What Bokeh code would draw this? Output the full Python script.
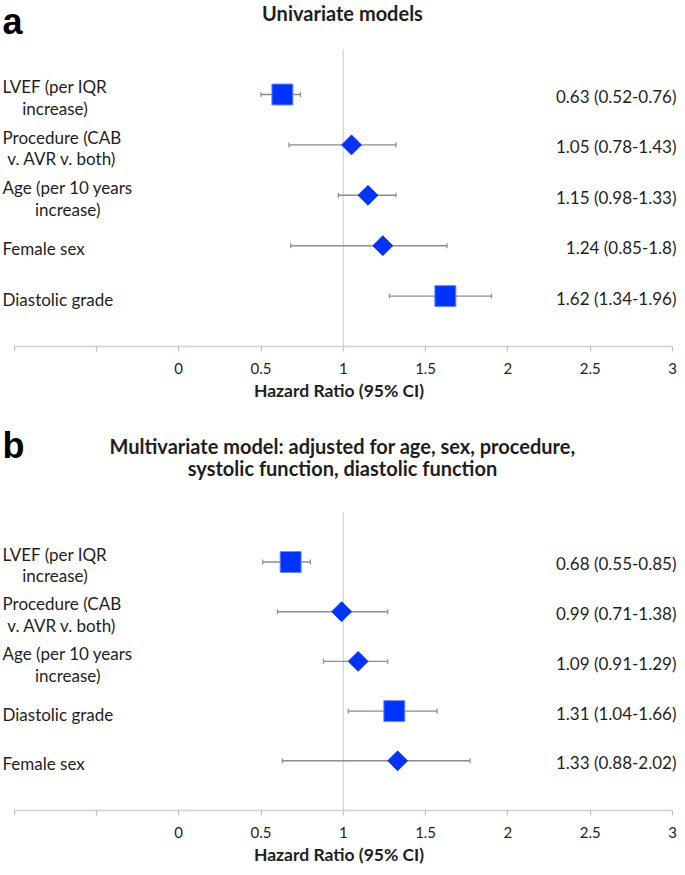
import math
from bokeh.plotting import figure
from bokeh.layouts import column
from bokeh.models import Range1d, FixedTicker
from bokeh.core.properties import value
from bokeh.embed import file_html
from bokeh.resources import INLINE

# ---------------- data ----------------
uni_labels = ["LVEF (per IQR\nincrease)", "Procedure (CAB\nv. AVR v. both)",
              "Age (per 10 years\nincrease)", "Female sex", "Diastolic grade"]
uni_hr = [0.63, 1.05, 1.15, 1.24, 1.62]
uni_ci_lo = [0.52, 0.78, 0.98, 0.85, 1.34]
uni_ci_hi = [0.76, 1.43, 1.33, 1.8, 1.96]
uni_bar_lo = [0.50, 0.67, 0.97, 0.68, 1.28]   # whisker ends as drawn
uni_bar_hi = [0.74, 1.32, 1.32, 1.63, 1.90]

multi_labels = ["LVEF (per IQR\nincrease)", "Procedure (CAB\nv. AVR v. both)",
                "Age (per 10 years\nincrease)", "Diastolic grade", "Female sex"]
multi_hr = [0.68, 0.99, 1.09, 1.31, 1.33]
multi_ci_lo = [0.55, 0.71, 0.91, 1.04, 0.88]
multi_ci_hi = [0.85, 1.38, 1.29, 1.66, 2.02]
multi_bar_lo = [0.51, 0.60, 0.88, 1.03, 0.63]
multi_bar_hi = [0.80, 1.27, 1.27, 1.57, 1.77]

tick_values = [-1, -0.5, 0, 0.5, 1, 1.5, 2, 2.5, 3]
tick_labels = ["", "", "0", "0.5", "1", "1.5", "2", "2.5", "3"]
x_title = "Hazard Ratio (95% CI)"
null_value = 1

title_a = ["Univariate models"]
title_b = ["Multivariate model: adjusted for age, sex, procedure,",
           "systolic function, diastolic function"]

# ---------------- style ----------------
FONT = "Lato"
TEXT = "#1e1e1e"
BLUE = "#0033ff"
BLUE_EDGE = "#6f8bff"
WHISK = "#8c8c8c"
REF = "#d9d9d9"

ZERO_PX = 178.2     # x of HR = 0 (canvas px)
UNIT_PX = 164.6     # px per HR unit
W = 677


def dx(px):
    return (px - ZERO_PX) / UNIT_PX


def panel(letter, title_lines, labels, hr, ci_lo, ci_hi, bar_lo, bar_hi,
          height, frame_h, row_px, ref_top, letter_fy, title_fys):
    n = len(labels)
    ys = [n - i for i in range(n)]

    def dy(fig_y):
        return (frame_h - fig_y) / row_px

    p = figure(width=W, height=height,
               x_range=Range1d(dx(0), dx(W)),
               y_range=Range1d(0, frame_h / row_px),
               output_backend="svg", toolbar_location=None,
               y_axis_location=None,
               min_border_left=0, min_border_right=0, min_border_top=0,
               min_border_bottom=height - frame_h)
    p.xgrid.visible = False
    p.ygrid.visible = False
    p.outline_line_color = None
    p.background_fill_color = "white"
    p.border_fill_color = "white"

    # reference line at HR = 1
    p.segment(x0=[null_value], y0=[0], x1=[null_value], y1=[ref_top],
              line_color=REF, line_width=1.5)

    # whiskers
    p.segment(x0=bar_lo, y0=ys, x1=bar_hi, y1=ys, line_color=WHISK, line_width=1.4)
    p.scatter(x=bar_lo + bar_hi, y=ys + ys, marker="dash", angle=math.pi / 2,
              size=5, line_color=WHISK, line_width=1.2)

    # markers: squares for significant, diamonds otherwise
    sig = [(h < 1) or (l > 1) for l, h in zip(ci_lo, ci_hi)]
    sx = [v for v, s in zip(hr, sig) if s]
    sy = [y for y, s in zip(ys, sig) if s]
    nx = [v for v, s in zip(hr, sig) if not s]
    ny = [y for y, s in zip(ys, sig) if not s]
    p.scatter(x=sx, y=sy, marker="square", size=21, fill_color=BLUE,
              line_color=BLUE_EDGE, line_width=1)
    p.scatter(x=nx, y=ny, marker="square", angle=math.pi / 4, size=14,
              fill_color=BLUE, line_color=BLUE, line_width=1)

    # left labels
    p.text(x=[dx(2)] * n, y=ys, text=labels, anchor=value("center_left"),
           text_align="center", text_baseline="middle", y_offset=3,
           text_font=value(FONT), text_font_size="17px", text_color=TEXT,
           text_line_height=1.03)

    # right labels
    right = [f"{h:g} ({l:g}-{u:g})" for h, l, u in zip(hr, ci_lo, ci_hi)]
    p.text(x=[dx(676)] * n, y=ys, text=right, text_align="right",
           text_baseline="middle", y_offset=2,
           text_font=value(FONT), text_font_size="17px", text_color=TEXT)

    # panel letter
    p.text(x=[dx(2)], y=[dy(letter_fy)], text=[letter], text_align="left",
           text_baseline="middle", text_font=value("Liberation Sans"),
           text_font_style="bold", text_font_size="36px", text_color="#000000")

    # title
    p.text(x=[dx(342)] * len(title_lines), y=[dy(f) for f in title_fys],
           text=title_lines, text_align="center", text_baseline="middle",
           text_font=value(FONT), text_font_style="bold",
           text_font_size="20px", text_color=TEXT)

    ax = p.xaxis[0]
    ax.ticker = FixedTicker(ticks=tick_values)
    ax.major_label_overrides = {float(t): l for t, l in zip(tick_values, tick_labels)}
    ax.bounds = (tick_values[0], tick_values[-1])
    ax.axis_line_color = "#d0d0d0"
    ax.axis_line_width = 1.3
    ax.major_tick_line_color = "#c0c0c0"
    ax.major_tick_line_width = 1.2
    ax.major_tick_out = 5
    ax.major_tick_in = 0
    ax.minor_tick_line_color = None
    ax.major_label_text_font = FONT
    ax.major_label_text_font_size = "15px"
    ax.major_label_text_color = TEXT
    ax.major_label_standoff = 11
    ax.axis_label = x_title
    ax.axis_label_text_font = FONT
    ax.axis_label_text_font_size = "17.5px"
    ax.axis_label_text_font_style = "bold"
    ax.axis_label_text_color = TEXT
    ax.axis_label_standoff = 3
    return p


p1 = panel("a", title_a, uni_labels, uni_hr, uni_ci_lo, uni_ci_hi,
           uni_bar_lo, uni_bar_hi,
           height=410, frame_h=346, row_px=50.4, ref_top=5.9,
           letter_fy=21, title_fys=[12])
p2 = panel("b", title_b, multi_labels, multi_hr, multi_ci_lo, multi_ci_hi,
           multi_bar_lo, multi_bar_hi,
           height=457, frame_h=404, row_px=50.2, ref_top=6.0,
           letter_fy=35, title_fys=[36, 58])

layout = column(p1, p2, spacing=0)
open("out.html", "w").write(file_html(layout, INLINE))
